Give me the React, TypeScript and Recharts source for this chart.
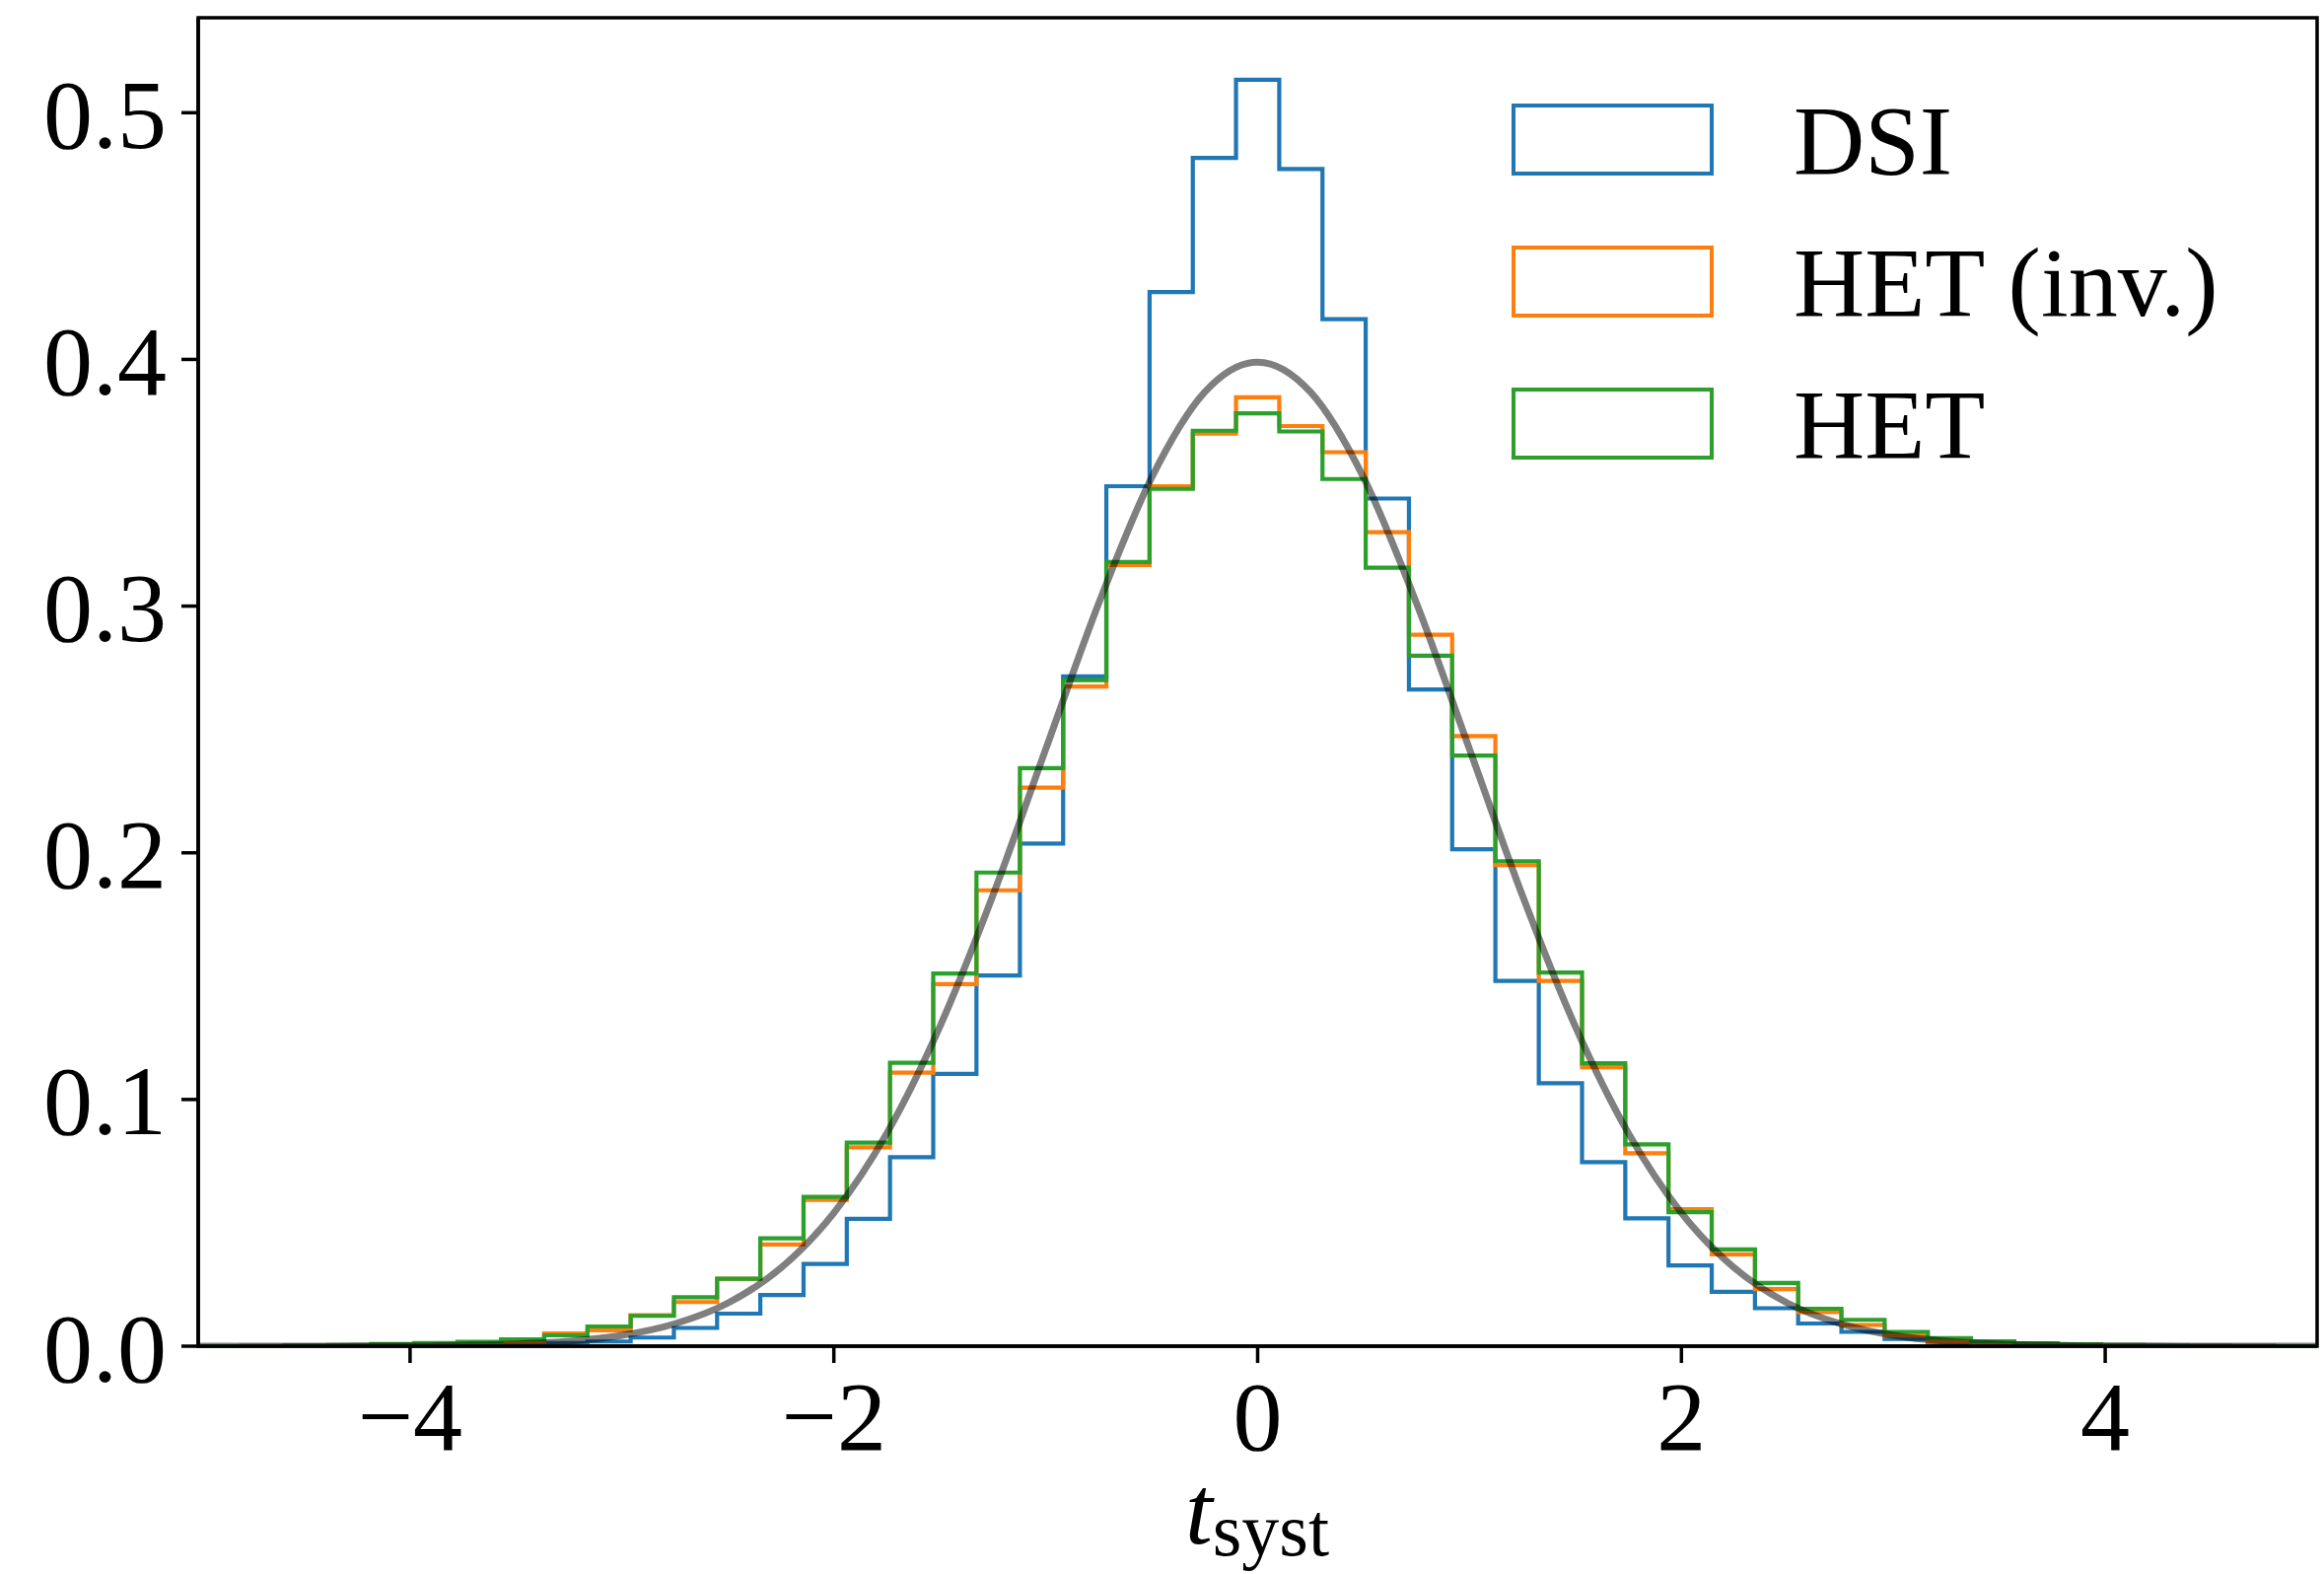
import React from 'react';
import { ComposedChart, Line, XAxis, YAxis, ReferenceArea } from 'recharts';

// histogram bin edges (49 bins from -5 to 5)
const binEdges = [
  -5.0, -4.796, -4.592, -4.388, -4.184, -3.98, -3.776, -3.571, -3.367, -3.163,
  -2.959, -2.755, -2.551, -2.347, -2.143, -1.939, -1.735, -1.531, -1.327, -1.122,
  -0.918, -0.714, -0.51, -0.306, -0.102, 0.102, 0.306, 0.51, 0.714, 0.918,
  1.122, 1.327, 1.531, 1.735, 1.939, 2.143, 2.347, 2.551, 2.755, 2.959,
  3.163, 3.367, 3.571, 3.776, 3.98, 4.184, 4.388, 4.592, 4.796, 5.0,
];

// density per bin
const dsiDensity = [
  0, 0, 0.0001, 0.0002, 0.0003, 0.0004, 0.0006, 0.001, 0.0013, 0.0019,
  0.0035, 0.0074, 0.0132, 0.0207, 0.0333, 0.0516, 0.0766, 0.1104, 0.1503, 0.2037,
  0.2715, 0.3486, 0.4273, 0.4817, 0.5134, 0.4772, 0.4163, 0.3436, 0.2662, 0.2014,
  0.1481, 0.1066, 0.0746, 0.0518, 0.0327, 0.022, 0.0154, 0.0092, 0.0058, 0.0029,
  0.0016, 0.0011, 0.0007, 0.0005, 0.0003, 0.0002, 0.0001, 0.0001, 0,
];

const hetInvDensity = [
  0, 0.0001, 0.0002, 0.0004, 0.0008, 0.0012, 0.0016, 0.0018, 0.0052, 0.0064,
  0.0126, 0.0179, 0.0273, 0.0412, 0.0593, 0.0806, 0.1109, 0.1468, 0.1848, 0.2264,
  0.2674, 0.3167, 0.3486, 0.3699, 0.3846, 0.373, 0.3624, 0.33, 0.2884, 0.2473,
  0.195, 0.1481, 0.1131, 0.0782, 0.0555, 0.0372, 0.0231, 0.0138, 0.0086, 0.0043,
  0.0018, 0.0012, 0.0007, 0.0004, 0.0002, 0.0001, 0.0001, 0, 0,
];

const hetDensity = [
  0, 0.0001, 0.0003, 0.0005, 0.0009, 0.0013, 0.0018, 0.0028, 0.0044, 0.008,
  0.0123, 0.0198, 0.0273, 0.0437, 0.0605, 0.0825, 0.1149, 0.1511, 0.192, 0.2343,
  0.27, 0.3179, 0.3475, 0.3711, 0.3781, 0.3708, 0.3515, 0.3156, 0.2799, 0.2394,
  0.1966, 0.1515, 0.1147, 0.0818, 0.0543, 0.0392, 0.0256, 0.0152, 0.0107, 0.0058,
  0.0033, 0.002, 0.0012, 0.0008, 0.0005, 0.0003, 0.0002, 0.0001, 0,
];

// grey reference curve
const curveX = [
  -5, -4.75, -4.5, -4.25, -4, -3.75, -3.5, -3.25, -3, -2.75, -2.5, -2.25, -2, -1.75,
  -1.5, -1.25, -1, -0.75, -0.5, -0.25, 0, 0.25, 0.5, 0.75, 1, 1.25, 1.5, 1.75, 2,
  2.25, 2.5, 2.75, 3, 3.25, 3.5, 3.75, 4, 4.25, 4.5, 4.75, 5,
];
const curveY = [
  0, 0, 0, 0.0001, 0.0001, 0.0004, 0.0009, 0.002, 0.0044, 0.0091, 0.0175, 0.0317,
  0.054, 0.0863, 0.1295, 0.1826, 0.242, 0.3011, 0.3521, 0.3867, 0.3989, 0.3867,
  0.3521, 0.3011, 0.242, 0.1826, 0.1295, 0.0863, 0.054, 0.0317, 0.0175, 0.0091,
  0.0044, 0.002, 0.0009, 0.0004, 0.0001, 0.0001, 0, 0, 0,
];

const xTicks = [-4, -2, 0, 2, 4];
const yTicks = [0, 0.1, 0.2, 0.3, 0.4, 0.5];
const yMax = 0.5385;

const seriesNames = ['DSI', 'HET (inv.)', 'HET'];
const seriesColors = ['#1f77b4', '#ff7f0e', '#2ca02c'];

const FONT = '"Liberation Serif", "DejaVu Serif", serif';

const histData = binEdges.map((x, i) => {
  const k = Math.min(i, dsiDensity.length - 1);
  return { x, dsi: dsiDensity[k], hetInv: hetInvDensity[k], het: hetDensity[k] };
});

const curveData = curveX.map((x, i) => ({ x, pdf: curveY[i] }));

const tickStyle = { fill: '#000', fontSize: 100, fontFamily: FONT };

const Overlay: React.FC = () => (
  <svg
    width={2357}
    height={1596}
    style={{ position: 'absolute', left: 0, top: 0, pointerEvents: 'none' }}
  >
    {seriesNames.map((name, i) => (
      <g key={name}>
        <rect x={1535} y={107 + i * 144} width={201} height={69} fill="#fff" stroke={seriesColors[i]} strokeWidth={4} />
        <text x={1819} y={176 + i * 144} fontSize={100} fontFamily={FONT} fill="#000">
          {name}
        </text>
      </g>
    ))}
    <text x={1275} y={1565} textAnchor="middle" fontFamily={FONT} fill="#000">
      <tspan fontSize={100} fontStyle="italic">t</tspan>
      <tspan fontSize={76} dy={12}>syst</tspan>
    </text>
  </svg>
);

export default function App() {
  return (
    <div style={{ position: 'absolute', left: 0, top: 0, width: 2357, height: 1596, background: '#fff' }}>
      <ComposedChart width={2357} height={1596} margin={{ top: 18, right: 7, bottom: 0, left: 0 }}>
        <XAxis
          dataKey="x"
          type="number"
          domain={[-5, 5]}
          ticks={xTicks}
          allowDataOverflow
          height={231}
          tickSize={17}
          tickMargin={17}
          axisLine={{ stroke: '#000', strokeWidth: 3.5 }}
          tickLine={{ stroke: '#000', strokeWidth: 3.5 }}
          tick={tickStyle}
          tickFormatter={(v: number) => String(v).replace('-', '\u2212')}
        />
        <YAxis
          type="number"
          domain={[0, yMax]}
          ticks={yTicks}
          allowDataOverflow
          width={201}
          tickSize={17}
          tickMargin={15}
          axisLine={{ stroke: '#000', strokeWidth: 3.5 }}
          tickLine={{ stroke: '#000', strokeWidth: 3.5 }}
          tick={tickStyle}
          tickFormatter={(v: number) => v.toFixed(1)}
        />
        <Line data={histData} dataKey="dsi" type="stepAfter" stroke={seriesColors[0]} strokeWidth={4.2} dot={false} activeDot={false} isAnimationActive={false} />
        <Line data={histData} dataKey="hetInv" type="stepAfter" stroke={seriesColors[1]} strokeWidth={4.2} dot={false} activeDot={false} isAnimationActive={false} />
        <Line data={histData} dataKey="het" type="stepAfter" stroke={seriesColors[2]} strokeWidth={4.2} dot={false} activeDot={false} isAnimationActive={false} />
        <Line data={curveData} dataKey="pdf" type="monotone" stroke="#000" strokeOpacity={0.5} strokeWidth={7} dot={false} activeDot={false} isAnimationActive={false} />
        <ReferenceArea x1={-5} x2={5} y1={0} y2={yMax} fill="none" stroke="#000" strokeWidth={3.5} ifOverflow="visible" />
      </ComposedChart>
      <Overlay />
    </div>
  );
}
